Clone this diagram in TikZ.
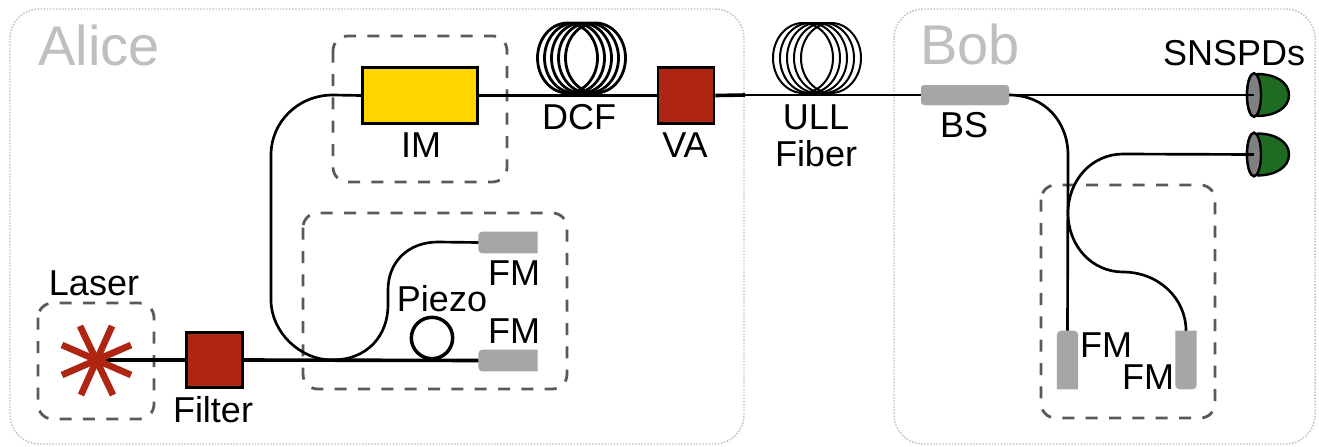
\documentclass[tikz,border=0pt]{standalone}
\usepackage{fontspec}
\setmainfont{Liberation Sans}
\usetikzlibrary{shapes.geometric,calc}
\definecolor{redbox}{HTML}{AE2612}
\definecolor{gold}{HTML}{FFD700}
\definecolor{fmgray}{HTML}{A6A6A6}
\definecolor{dashgray}{HTML}{595959}
\definecolor{dotgray}{HTML}{BFBFBF}
\definecolor{domegreen}{HTML}{1F6B22}
\tikzset{
  x=0.75pt,y=-0.75pt,
  party/.style={draw=dotgray,line width=1.1pt,dash pattern=on 1.1pt off 1.2pt,rounded corners=22pt},
  partyname/.style={anchor=base west,text=dotgray,font=\fontsize{42}{42}\selectfont,inner sep=0pt},
  group/.style={draw=dashgray,line width=2.1pt,dash pattern=on 9pt off 8.5pt,rounded corners=11pt},
  label/.style={anchor=base,font=\fontsize{27}{27}\selectfont,inner sep=0pt,text=black},
  fiber/.style={draw=black,line width=2.7pt},
  thinfiber/.style={draw=black,line width=2pt},
  redsq/.style={draw=black,fill=redbox,line width=2pt,minimum width=42pt,minimum height=42pt,inner sep=0pt},
  imbox/.style={draw=black,fill=gold,line width=2.3pt,minimum width=86pt,minimum height=42pt,inner sep=0pt},
  fmh/.style={minimum width=44pt,minimum height=16pt,inner sep=0pt},
  fmv/.style={minimum width=15.5pt,minimum height=43.5pt,inner sep=0pt},
  bs/.style={fill=fmgray,rounded corners=2.5pt,minimum width=66pt,minimum height=15pt,inner sep=0pt},
  spoke/.style={draw=redbox,line width=5pt},
  coil/.style={draw=black,line width=#1},
  dome/.style={draw=black,fill=domegreen,line width=1.8pt,line join=round},
  detfront/.style={ellipse,draw=black,fill=gray,line width=1.8pt,minimum width=10.5pt,minimum height=32.5pt,inner sep=0pt},
  piezo/.style={circle,draw=black,line width=2.6pt,minimum size=31pt,inner sep=0pt}
}
\begin{document}
\begin{tikzpicture}
\useasboundingbox (0,0) rectangle (1319,446);
\fill[white] (0,0) rectangle (1319,446);
% party frames
\draw[party] (10,9) rectangle (744,444);
\draw[party] (894,9) rectangle (1315,444);
\node[partyname] (alice) at (38,65) {Alice};
\node[partyname] (bob) at (920,64) {Bob};
% dashed groups
\draw[group] (333,36) rectangle (507,182);
\draw[group] (303,213) rectangle (567,389);
\draw[group] (38,303) rectangle (154,419);
\draw[group] (1041,185) rectangle (1215,418);
% component anchors
\node[imbox] (im) at (420,95.5) {};
\node[redsq] (va) at (686,95.5) {};
\node[redsq,minimum height=41pt] (filter) at (214.5,360) {};
\coordinate (laser) at (97,360);
\node[fmh] (fma) at (508,242.5) {};
\node[fmh] (fmb) at (508,360.5) {};
\node[fmv] (fmc) at (1067.5,360) {};
\node[fmv] (fmd) at (1186,360) {};
\node[bs] (bsp) at (965,95) {};
\node[detfront] (deta) at (1254,95) {};
\node[detfront] (detb) at (1254,154.5) {};
\coordinate (split) at (332,360);
\coordinate (bsout) at (1009,95);
% FM bodies
\fill[fmgray] (fma.north east) [rounded corners=3pt] -- (fma.north west) -- (fma.south west) [sharp corners] -- (fma.south east) -- cycle;
\fill[fmgray] (fmb.north east) [rounded corners=3pt] -- (fmb.north west) -- (fmb.south west) [sharp corners] -- (fmb.south east) -- cycle;
\fill[fmgray] (fmc.south east) [rounded corners=3pt] -- (fmc.north east) -- (fmc.north west) [sharp corners] -- (fmc.south west) -- cycle;
\fill[fmgray] (fmd.north east) [rounded corners=3pt] -- (fmd.south east) -- (fmd.south west) [sharp corners] -- (fmd.north west) -- cycle;
% coils
\foreach \c in {567.5,574.5,581.5,588.5,595.5}{
  \draw[coil=2.1pt] (\c,58) ellipse [x radius=30,y radius=35];
}
\foreach \c in {803,810,817,824,831}{
  \draw[coil=1.5pt] (\c,58) ellipse [x radius=30,y radius=35];
}
% fibers
\draw[fiber] (laser) -- (filter.west);
\draw[fiber] (filter.east) -- (fmb.west);
\draw[thinfiber] (split) .. controls (300,360) and (271,332) .. (271,300) -- (271,155) .. controls (271,122) and (298,95) .. (333,95) -- (im.west);
\draw[thinfiber] (split) .. controls (368,360) and (388,335) .. (388,305) -- (388,290) .. controls (388,262) and (408,242) .. (438,242) -- (fma.west);
\node[piezo] (pz) at (432,338) {};
\draw[fiber] (im.east) -- (va.west);
\draw[fiber] (va.east) -- (745,95);
\draw[thinfiber] (745,95) -- (bsp.west);
\draw[thinfiber] (bsout) -- (deta.center);
\draw[thinfiber] (bsout) .. controls (1045,95) and (1068,122) .. (1068,155) -- (fmc.north);
\draw[thinfiber] (detb.center) -- (1123,154) .. controls (1092,154) and (1068,180) .. (1068,213) .. controls (1068,246) and (1092,272) .. (1123,272) .. controls (1158,272) and (1186,298) .. (fmd.north);
% redraw components over fibers
\node[imbox] at (im) {};
\node[bs] at (bsp) {};
% detectors
\draw[dome] (1257,74) .. controls (1275,74) and (1289,82) .. (1289,95) .. controls (1289,108) and (1275,116) .. (1257,116);
\draw[dome] (1257,133.5) .. controls (1275,133.5) and (1289,141.5) .. (1289,154.5) .. controls (1289,167.5) and (1275,175.5) .. (1257,175.5);
\node[detfront] at (deta) {};
\node[detfront] at (detb) {};
\draw[thinfiber] (1240,95) -- (deta.center);
\draw[thinfiber] (1240,154.5) -- (detb.center);
% laser star
\draw[spoke] (80,326) -- (113,395);
\draw[spoke] (112,326) -- (81,395);
\draw[spoke] (62,345) -- (131,375);
\draw[spoke] (131,345) -- (62,375);
% labels
\node[label] (lim) at (421,157) {IM};
\node[label] (ldcf) at (579,129) {DCF};
\node[label] (lva) at (685,157) {VA};
\node[label] (lull) at (816,129) {ULL};
\node[label] (lfib) at (816,166) {Fiber};
\node[label] (lbs) at (964,137) {BS};
\node[label] (lsn) at (1234,65) {SNSPDs};
\node[label] (llas) at (94,295) {Laser};
\node[label] (lfil) at (213,422) {Filter};
\node[label] (lpz) at (442,311) {Piezo};
\node[label] (lfa) at (514,285) {FM};
\node[label] (lfb) at (514,343) {FM};
\node[label] (lfc) at (1106,357) {FM};
\node[label] (lfd) at (1148,389) {FM};
\end{tikzpicture}
\end{document}
